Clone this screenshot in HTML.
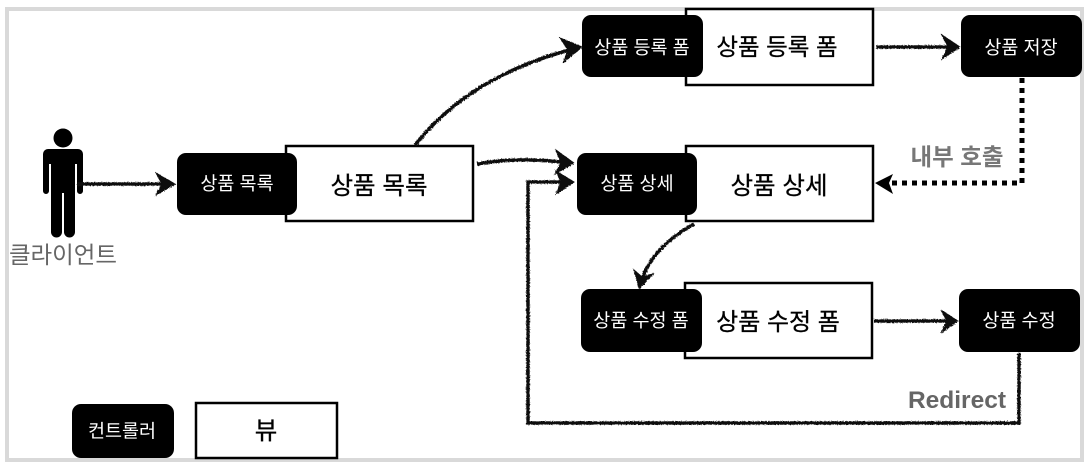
<!DOCTYPE html>
<html><head><meta charset="utf-8">
<style>
html,body{margin:0;padding:0;background:#fff}
svg{display:block}
text{font-family:"Liberation Sans","Noto Sans CJK KR",sans-serif}
.w{fill:#fff;font-size:18.500px;text-anchor:middle}
.k{fill:#000;font-size:24.500px;text-anchor:middle;stroke:#000;stroke-width:.3}
.v{fill:#fff;stroke:#000;stroke-width:2.5}
.c{fill:#000}
.a{fill:none;stroke:#111;stroke-width:3.5}
.h{fill:#111;stroke:#111;stroke-width:1}
</style></head>
<body>
<svg width="1088" height="467" viewBox="0 0 1088 467" xmlns="http://www.w3.org/2000/svg">
<defs>
<filter id="r" x="0" y="0" width="1088" height="467" filterUnits="userSpaceOnUse">
<feTurbulence type="fractalNoise" baseFrequency="0.7" numOctaves="2" seed="3"/>
<feDisplacementMap in="SourceGraphic" scale="2.4"/>
</filter>
</defs>
<rect width="1088" height="467" fill="#fff"/>
<rect x="7" y="9" width="1075" height="451" fill="#fff" stroke="#d9d9d9" stroke-width="4"/>

<!-- person -->
<g fill="#000">
<circle cx="63" cy="138" r="9.5"/>
<path d="M48 149H78a5 5 0 0 1 5 5V191a3 3 0 0 1-6 0V164H75V232a5.500 5.500 0 0 1-11 0V193H62V232a5.500 5.500 0 0 1-11 0V164H49V191a3 3 0 0 1-6 0V154a5 5 0 0 1 5-5Z"/>
</g>
<text x="63" y="263" font-size="23.500" fill="#666" text-anchor="middle">클라이언트</text>

<!-- views -->
<rect class="v" x="286" y="146" width="187" height="75"/>
<rect class="v" x="686" y="9" width="187" height="76"/>
<rect class="v" x="686" y="146" width="187" height="75"/>
<rect class="v" x="685" y="283" width="187" height="75"/>
<rect class="v" x="196" y="403" width="141" height="55" stroke-width="3"/>

<!-- controllers -->
<rect class="c" x="177" y="153" width="120" height="62" rx="9"/>
<rect class="c" x="582" y="15" width="121" height="62" rx="9"/>
<rect class="c" x="961" y="15" width="121" height="62" rx="9"/>
<rect class="c" x="577" y="153" width="120" height="62" rx="9"/>
<rect class="c" x="581" y="289" width="121" height="63" rx="9"/>
<rect class="c" x="959" y="289" width="121" height="63" rx="9"/>
<rect class="c" x="72" y="404" width="102" height="54" rx="9"/>

<!-- labels -->
<text class="w" x="237" y="190">상품 목록</text>
<text class="k" x="379" y="194">상품 목록</text>
<text class="w" x="642" y="54">상품 등록 폼</text>
<text class="k" x="777" y="55" style="font-size:23.500px">상품 등록 폼</text>
<text class="w" x="1021" y="54">상품 저장</text>
<text class="w" x="637" y="190">상품 상세</text>
<text class="k" x="779" y="194">상품 상세</text>
<text class="w" x="641" y="327">상품 수정 폼</text>
<text class="k" x="778" y="330" style="font-size:24px">상품 수정 폼</text>
<text class="w" x="1019" y="327">상품 수정</text>
<text class="w" x="122" y="437.500" style="font-size:18.500px">컨트롤러</text>
<text class="k" x="266" y="439">뷰</text>
<text x="957" y="165" font-size="23.500" font-weight="700" fill="#777" text-anchor="middle">내부 호출</text>
<text x="957" y="408" font-size="24.500" font-weight="700" fill="#666" text-anchor="middle">Redirect</text>

<!-- connectors -->
<g filter="url(#r)">
<path class="a" d="M77 184H170"/>
<path class="h" d="M175 184L156 173L162 184L156 195Z"/>
<path class="a" d="M415 145C455 95 510 65 577 48"/>
<path class="h" d="M582 47L560 38L568 50L563 63Z"/>
<path class="a" d="M477 164C510 158 540 159 569 163"/>
<path class="h" d="M574 163L556 150L561 163L555 174Z"/>
<path class="a" d="M1019 353V423H528V182H569"/>
<path class="h" d="M574 182L556 171L561 182L556 194Z"/>
<path class="a" d="M876 47H955"/>
<path class="h" d="M960 47L942 35L948 47L942 59Z"/>
<path class="a" d="M694 224C665 240 648 260 641 282"/>
<path class="h" d="M639 288L634 270L642 277L653 274L640 288Z"/>
<path class="a" d="M874 321H953"/>
<path class="h" d="M958 321L941 310L947 321L941 333Z"/>
</g>
<path d="M1022 78V183H888" fill="none" stroke="#000" stroke-width="5" stroke-dasharray="5 5"/>
<path d="M875 183L893 174L889 183L893 194Z" fill="#000"/>
</svg>
</body></html>
